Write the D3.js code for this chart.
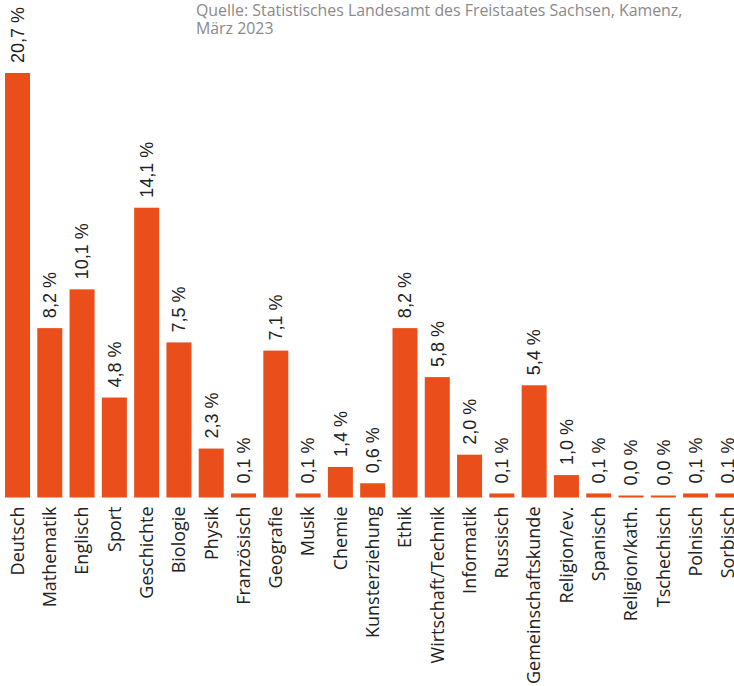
<!DOCTYPE html>
<html><head><meta charset="utf-8">
<script src="https://cdn.jsdelivr.net/npm/d3@7"></script>
<style>
html,body{margin:0;padding:0;background:#fff;}
svg{display:block;}
</style></head>
<body>
<script>
const categories = ["Deutsch","Mathematik","Englisch","Sport","Geschichte","Biologie","Physik","Französisch","Geografie","Musik","Chemie","Kunsterziehung","Ethik","Wirtschaft/Technik","Informatik","Russisch","Gemeinschaftskunde","Religion/ev.","Spanisch","Religion/kath.","Tschechisch","Polnisch","Sorbisch"];
const values = [20.7,8.2,10.1,4.8,14.1,7.5,2.3,0.1,7.1,0.1,1.4,0.6,8.2,5.8,2.0,0.1,5.4,1.0,0.1,0.0,0.0,0.1,0.1];
const sourceLines = ["Quelle: Statistisches Landesamt des Freistaates Sachsen, Kamenz,","März 2023"];

const W = 734, H = 686;
const svg = d3.select("body").append("svg").attr("width", W).attr("height", H);
const color = "#e94e1b";

const step = 32.29, bw = 25;
const x = d3.scaleBand().domain(categories)
  .range([5, 5 + 23*step - (step-bw)]).paddingInner((step-bw)/step).paddingOuter(0);
const y = d3.scaleLinear().domain([0, 20.7]).range([495.5, 73]);
const base = 497.5;
const fmt = v => d3.format(".1f")(v).replace(".", ",") + " %";

const g = svg.append("g");
g.selectAll("rect").data(values).join("rect")
  .attr("x", (d,i) => x(categories[i]))
  .attr("width", x.bandwidth())
  .attr("y", d => y(d))
  .attr("height", d => base - y(d))
  .attr("fill", color);

g.selectAll("text.val").data(values).join("text").attr("class","val")
  .attr("transform", (d,i) => `translate(${x(categories[i]) + x.bandwidth()/2},${y(d) - 10}) rotate(-90)`)
  .attr("dy", "0.35em")
  .attr("text-anchor", "start")
  .style("font-family", "'Liberation Sans', Arial, sans-serif")
  .style("font-size", "18px")
  .attr("fill", "#222")
  .text(d => fmt(d));

const xAxis = d3.axisBottom(x).tickSize(0).tickPadding(0);
const ax = svg.append("g").attr("transform", `translate(0,${base})`).call(xAxis);
ax.select(".domain").remove();
ax.selectAll("text")
  .attr("transform", "translate(0,9) rotate(-90)")
  .attr("x", 0).attr("y", 0).attr("dy", "0.35em")
  .attr("text-anchor", "end")
  .style("font-family", "'Open Sans', sans-serif")
  .style("font-size", "18px")
  .attr("fill", "#222");

svg.append("g").selectAll("text").data(sourceLines).join("text")
  .attr("x", 196).attr("y", (d,i) => 16 + i*18)
  .style("font-family", "'Open Sans', sans-serif")
  .style("font-size", "15.9px")
  .attr("fill", "#8a8a8a")
  .text(d => d);
</script>
</body></html>
